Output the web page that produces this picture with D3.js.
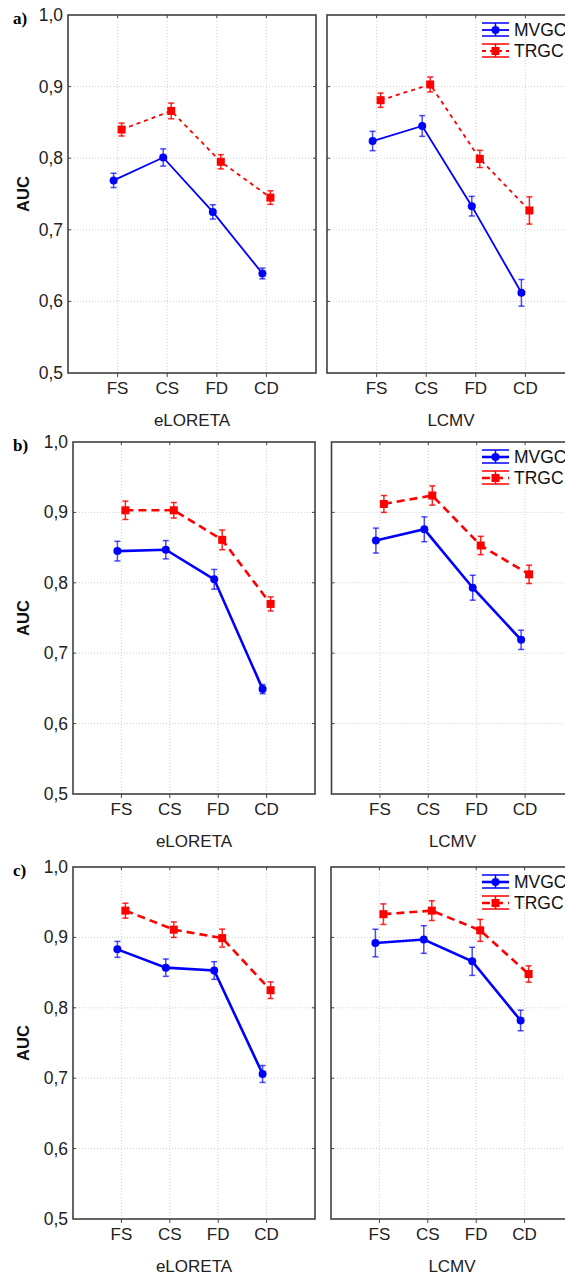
<!DOCTYPE html>
<html>
<head>
<meta charset="utf-8">
<script src="https://cdn.jsdelivr.net/npm/d3@7"></script>
<style>
  body { margin: 0; background: #fff; }
  svg { display: block; font-family: "Liberation Sans", Arial, sans-serif; }
</style>
</head>
<body>
<svg id="chart" width="565" height="1280"></svg>
<script>
const categories = ["FS", "CS", "FD", "CD"];
const yTicks = [0.5, 0.6, 0.7, 0.8, 0.9, 1.0];
const methods = ["eLORETA", "LCMV"];
const seriesNames = ["MVGC", "TRGC"];

// a) means and error half-widths
const aEloretaMVGC = [0.769, 0.801, 0.725, 0.639];
const aEloretaMVGCErr = [0.010, 0.012, 0.010, 0.0075];
const aEloretaTRGC = [0.840, 0.866, 0.795, 0.745];
const aEloretaTRGCErr = [0.009, 0.011, 0.010, 0.0095];
const aLcmvMVGC = [0.824, 0.845, 0.733, 0.612];
const aLcmvMVGCErr = [0.0135, 0.0145, 0.0137, 0.0186];
const aLcmvTRGC = [0.881, 0.903, 0.799, 0.727];
const aLcmvTRGCErr = [0.010, 0.0105, 0.012, 0.019];

// b)
const bEloretaMVGC = [0.845, 0.847, 0.805, 0.649];
const bEloretaMVGCErr = [0.014, 0.013, 0.014, 0.0065];
const bEloretaTRGC = [0.903, 0.903, 0.861, 0.770];
const bEloretaTRGCErr = [0.013, 0.011, 0.014, 0.010];
const bLcmvMVGC = [0.860, 0.876, 0.793, 0.719];
const bLcmvMVGCErr = [0.0177, 0.0177, 0.0177, 0.0137];
const bLcmvTRGC = [0.912, 0.924, 0.853, 0.812];
const bLcmvTRGCErr = [0.012, 0.0137, 0.013, 0.013];

// c)
const cEloretaMVGC = [0.883, 0.857, 0.853, 0.706];
const cEloretaMVGCErr = [0.0113, 0.0123, 0.0125, 0.012];
const cEloretaTRGC = [0.938, 0.911, 0.899, 0.825];
const cEloretaTRGCErr = [0.0106, 0.011, 0.0128, 0.0118];
const cLcmvMVGC = [0.892, 0.897, 0.866, 0.782];
const cLcmvMVGCErr = [0.0196, 0.0196, 0.020, 0.0146];
const cLcmvTRGC = [0.933, 0.938, 0.910, 0.848];
const cLcmvTRGCErr = [0.0146, 0.014, 0.0156, 0.0116];

const rows = [
  { label: "a)", top: 15, bottom: 373, lefts: [68, 327], width: 248, lineW: 1.8, dash: "4,4",
    data: [[aEloretaMVGC, aEloretaMVGCErr, aEloretaTRGC, aEloretaTRGCErr],
           [aLcmvMVGC, aLcmvMVGCErr, aLcmvTRGC, aLcmvTRGCErr]] },
  { label: "b)", top: 442, bottom: 794, lefts: [73, 331.5], width: 242, lineW: 2.6, dash: "8,5",
    data: [[bEloretaMVGC, bEloretaMVGCErr, bEloretaTRGC, bEloretaTRGCErr],
           [bLcmvMVGC, bLcmvMVGCErr, bLcmvTRGC, bLcmvTRGCErr]] },
  { label: "c)", top: 867, bottom: 1219, lefts: [73, 331], width: 242, lineW: 2.6, dash: "8,5",
    data: [[cEloretaMVGC, cEloretaMVGCErr, cEloretaTRGC, cEloretaTRGCErr],
           [cLcmvMVGC, cLcmvMVGCErr, cLcmvTRGC, cLcmvTRGCErr]] }
];

const blue = "#0000ff";
const red = "#ff0000";
const svg = d3.select("#chart");

rows.forEach(row => {
  const y = d3.scaleLinear().domain([0.5, 1.0]).range([row.bottom, row.top]);

  // panel letter and y title
  svg.append("text")
    .attr("x", 13).attr("y", row.top + 9)
    .style("font-family", "'Liberation Serif', 'Times New Roman', serif")
    .style("font-weight", "bold").style("font-size", "17px")
    .text(row.label);

  svg.append("text")
    .attr("transform", `translate(29,${(row.top + row.bottom) / 2}) rotate(-90)`)
    .attr("text-anchor", "middle")
    .style("font-weight", "bold").style("font-size", "16.5px").attr("fill", "#111")
    .text("AUC");

  row.lefts.forEach((left, p) => {
    const x = d3.scaleLinear().domain([0, 5]).range([left, left + row.width]);
    const g = svg.append("g");

    // grid
    g.selectAll(".hgrid").data(yTicks.slice(1, -1)).enter().append("line")
      .attr("x1", left).attr("x2", left + row.width)
      .attr("y1", d => y(d)).attr("y2", d => y(d))
      .attr("stroke", "#cfcfcf").attr("stroke-width", 1).attr("stroke-dasharray", "1,2");
    g.selectAll(".vgrid").data(categories).enter().append("line")
      .attr("x1", (d, i) => x(i + 1)).attr("x2", (d, i) => x(i + 1))
      .attr("y1", row.top).attr("y2", row.bottom)
      .attr("stroke", "#cfcfcf").attr("stroke-width", 1).attr("stroke-dasharray", "1,2");

    // small inward ticks
    g.selectAll(".ltick").data(yTicks.slice(1, -1)).enter().append("line")
      .attr("x1", left).attr("x2", left + 3)
      .attr("y1", d => y(d)).attr("y2", d => y(d)).attr("stroke", "#444");
    g.selectAll(".rtick").data(yTicks.slice(1, -1)).enter().append("line")
      .attr("x1", left + row.width - 3).attr("x2", left + row.width)
      .attr("y1", d => y(d)).attr("y2", d => y(d)).attr("stroke", "#444");
    g.selectAll(".btick").data(categories).enter().append("line")
      .attr("x1", (d, i) => x(i + 1)).attr("x2", (d, i) => x(i + 1))
      .attr("y1", row.bottom).attr("y2", row.bottom + 4).attr("stroke", "#444");
    g.selectAll(".ttick").data(categories).enter().append("line")
      .attr("x1", (d, i) => x(i + 1)).attr("x2", (d, i) => x(i + 1))
      .attr("y1", row.top).attr("y2", row.top + 3).attr("stroke", "#444");

    // frame
    g.append("rect")
      .attr("x", left).attr("y", row.top)
      .attr("width", row.width).attr("height", row.bottom - row.top)
      .attr("fill", "none").attr("stroke", "#404040").attr("stroke-width", 1.6);

    // y tick labels on left panel only
    if (p === 0) {
      g.selectAll(".ylab").data(yTicks).enter().append("text")
        .attr("x", left - 5).attr("y", d => y(d) + 6)
        .attr("text-anchor", "end").style("font-size", "17.5px").attr("fill", "#222")
        .text(d => d.toFixed(1).replace(".", ","));
    }

    // category labels
    g.selectAll(".xlab").data(categories).enter().append("text")
      .attr("x", (d, i) => x(i + 1)).attr("y", row.bottom + 21)
      .attr("text-anchor", "middle").style("font-size", "17px").attr("fill", "#222")
      .text(d => d);

    g.append("text")
      .attr("x", left + row.width / 2).attr("y", row.bottom + 53)
      .attr("text-anchor", "middle").style("font-size", "17px").attr("fill", "#222")
      .text(methods[p]);

    const [mv, mvErr, tr, trErr] = row.data[p];
    const series = [
      { vals: mv, err: mvErr, color: blue, off: -4, dash: null, shape: "circle" },
      { vals: tr, err: trErr, color: red, off: 4, dash: row.dash, shape: "square" }
    ];

    series.forEach(s => {
      const pts = s.vals.map((v, i) => ({ x: x(i + 1) + s.off, v: v, e: s.err[i] }));
      const line = d3.line().x(d => d.x).y(d => y(d.v));
      g.append("path").datum(pts)
        .attr("d", line).attr("fill", "none")
        .attr("stroke", s.color).attr("stroke-width", row.lineW)
        .attr("stroke-dasharray", s.dash);

      const eb = g.selectAll(null).data(pts).enter().append("g")
        .attr("stroke", s.color).attr("stroke-width", 1.5)
        .attr("stroke-opacity", s.shape === "circle" ? 0.7 : 0.85);
      eb.append("line").attr("x1", d => d.x).attr("x2", d => d.x)
        .attr("y1", d => y(d.v - d.e)).attr("y2", d => y(d.v + d.e));
      eb.append("line").attr("x1", d => d.x - 3).attr("x2", d => d.x + 3)
        .attr("y1", d => y(d.v + d.e)).attr("y2", d => y(d.v + d.e));
      eb.append("line").attr("x1", d => d.x - 3).attr("x2", d => d.x + 3)
        .attr("y1", d => y(d.v - d.e)).attr("y2", d => y(d.v - d.e));

      if (s.shape === "circle") {
        g.selectAll(null).data(pts).enter().append("circle")
          .attr("cx", d => d.x).attr("cy", d => y(d.v)).attr("r", 4)
          .attr("fill", s.color);
      } else {
        g.selectAll(null).data(pts).enter().append("rect")
          .attr("x", d => d.x - 4).attr("y", d => y(d.v) - 4)
          .attr("width", 8).attr("height", 8).attr("fill", s.color);
      }
    });

    // legend in right panel
    if (p === 1) {
      const lx0 = 482, lx1 = 509, lxm = (lx0 + lx1) / 2;
      seriesNames.forEach((name, k) => {
        const cy = row.top + 15 + k * 21;
        const col = k === 0 ? blue : red;
        const lg = g.append("g").attr("stroke", col);
        lg.append("line").attr("x1", lx0).attr("x2", lx1).attr("y1", cy - 7).attr("y2", cy - 7).attr("stroke-width", 1.5);
        lg.append("line").attr("x1", lx0).attr("x2", lx1).attr("y1", cy + 6).attr("y2", cy + 6).attr("stroke-width", 1.5);
        lg.append("line").attr("x1", lxm).attr("x2", lxm).attr("y1", cy - 7).attr("y2", cy + 6).attr("stroke-width", 1.5);
        lg.append("line").attr("x1", lx0).attr("x2", lx1).attr("y1", cy).attr("y2", cy)
          .attr("stroke-width", row.lineW).attr("stroke-dasharray", k === 1 ? row.dash : null);
        if (k === 0) {
          lg.append("circle").attr("cx", lxm).attr("cy", cy).attr("r", 4).attr("fill", col).attr("stroke", "none");
        } else {
          lg.append("rect").attr("x", lxm - 4).attr("y", cy - 4).attr("width", 8).attr("height", 8).attr("fill", col).attr("stroke", "none");
        }
        g.append("text").attr("x", 514).attr("y", cy + 6)
          .style("font-size", "17.5px").attr("fill", "#111").text(name);
      });
    }
  });
});
</script>
</body>
</html>
